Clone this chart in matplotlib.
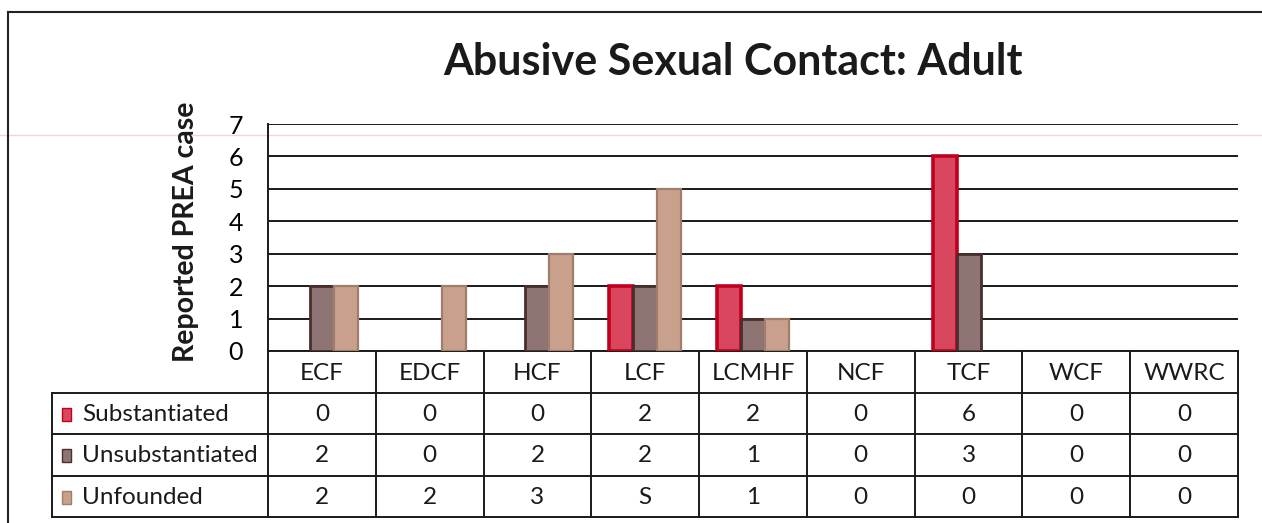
import matplotlib
matplotlib.use('Agg')
import matplotlib.pyplot as plt
from matplotlib.patches import Rectangle
import numpy as np

categories = ['ECF', 'EDCF', 'HCF', 'LCF', 'LCMHF', 'NCF', 'TCF', 'WCF', 'WWRC']
series_names = ['Substantiated', 'Unsubstantiated', 'Unfounded']
substantiated = [0, 0, 0, 2, 2, 0, 6, 0, 0]
unsubstantiated = [2, 0, 2, 2, 1, 0, 3, 0, 0]
unfounded = [2, 2, 3, 5, 1, 0, 0, 0, 0]
# table text as printed in the scanned reference (the 5 reads as "S")
substantiated_text = ['0', '0', '0', '2', '2', '0', '6', '0', '0']
unsubstantiated_text = ['2', '0', '2', '2', '1', '0', '3', '0', '0']
unfounded_text = ['2', '2', '3', 'S', '1', '0', '0', '0', '0']
yticks = [0, 1, 2, 3, 4, 5, 6, 7]
title = 'Abusive Sexual Contact: Adult'
ylabel = 'Reported PREA case'

FONT = ['Lato', 'DejaVu Sans']
plt.rcParams['font.family'] = FONT

fills = ['#D9475E', '#8E7574', '#C9A08C']
edges = ['#C0001E', '#4A2E2E', '#A07E6C']

W, H = 1262, 523
fig = plt.figure(figsize=(12.62, 5.23), dpi=100)
bg = fig.add_axes([0, 0, 1, 1])
bg.set_xlim(0, W)
bg.set_ylim(H, 0)
bg.axis('off')

ax_l, ax_r, ax_t, ax_b = 268, 1238, 124, 351
ax = fig.add_axes([ax_l / W, 1 - ax_b / H, (ax_r - ax_l) / W, (ax_b - ax_t) / H])
ax.patch.set_alpha(0)

x = np.arange(len(categories))
w = 0.222
series = [substantiated, unsubstantiated, unfounded]
lws = [2.6, 2.0, 1.6]
for k, vals in enumerate(series):
    v = np.array(vals, dtype=float)
    m = v > 0
    ax.bar(x[m] + (k - 1) * w, v[m], w, color=fills[k], edgecolor=edges[k],
           linewidth=lws[k], zorder=3)

ax.set_xlim(-0.5, len(categories) - 0.5)
ax.set_ylim(0, 7)
ax.set_yticks(yticks)
ax.set_yticklabels([str(t) for t in yticks], fontsize=18)
ax.tick_params(axis='y', length=0, pad=18)
ax.set_xticks([])
ax.yaxis.grid(True, color='#1a1a1a', linewidth=1.4)
ax.set_axisbelow(True)
for s in ['top', 'right', 'bottom']:
    ax.spines[s].set_visible(False)
ax.spines['left'].set_color('#1a1a1a')
ax.spines['left'].set_linewidth(1.4)

# faint scan artifact line
bg.plot([0, W], [135, 135], color='#f4d2dc', lw=1, zorder=0)

# outer border (top and left)
bg.plot([8, W], [12, 12], color='#222222', lw=1.5)
bg.plot([8, 8], [12, H], color='#222222', lw=1.5)

# title and y label
bg.text(733, 62, title, ha='center', va='center', fontsize=31, fontweight='bold', color='#1a1a1a')
bg.text(186, 232, ylabel, ha='center', va='center', rotation=90, fontsize=20.5,
        fontweight='bold', color='#1a1a1a')

# data table
ncol = len(categories)
cw = (ax_r - ax_l) / ncol
col_edges = [ax_l + i * cw for i in range(ncol + 1)]
row_y = [351, 393, 434, 476, 517]
leg_l = 52
lc = '#1a1a1a'
bg.plot([ax_l, ax_r], [row_y[0], row_y[0]], color=lc, lw=1.4)
for yy in row_y[1:]:
    bg.plot([leg_l, ax_r], [yy, yy], color=lc, lw=1.4)
bg.plot([leg_l, leg_l], [row_y[1], row_y[-1]], color=lc, lw=1.4)
for xe in col_edges:
    bg.plot([xe, xe], [row_y[0], row_y[-1]], color=lc, lw=1.4)

for i, c in enumerate(categories):
    bg.text(col_edges[i] + cw / 2, (row_y[0] + row_y[1]) / 2 + 1, c, ha='center', va='center',
            fontsize=17.5, color='#1a1a1a')

texts = [substantiated_text, unsubstantiated_text, unfounded_text]
for r, (name, tv) in enumerate(zip(series_names, texts)):
    yc = (row_y[r + 1] + row_y[r + 2]) / 2 + 1
    bg.add_patch(Rectangle((62, yc - 7), 9, 13, facecolor=fills[r], edgecolor=edges[r], lw=1))
    bg.text(82, yc, name, ha='left', va='center', fontsize=17.5, color='#1a1a1a')
    for i, t in enumerate(tv):
        bg.text(col_edges[i] + cw / 2, yc, t, ha='center', va='center', fontsize=17.5, color='#1a1a1a')

fig.savefig('out.png', dpi=100)
